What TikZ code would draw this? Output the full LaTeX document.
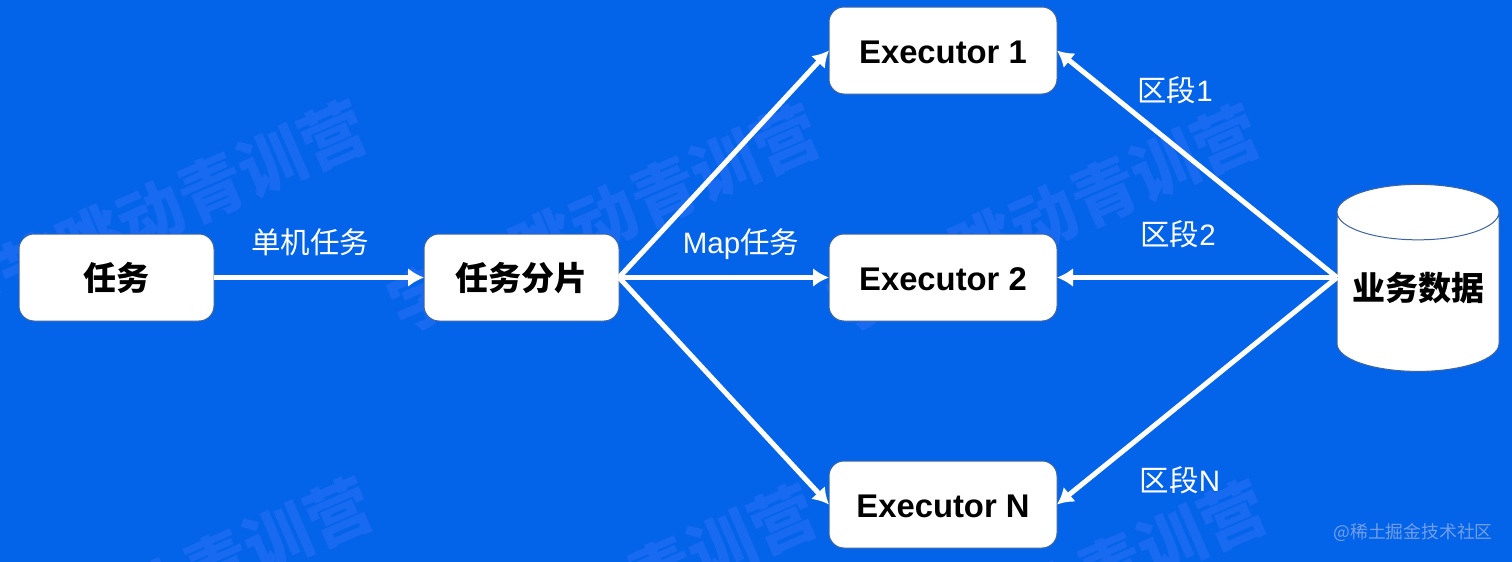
\documentclass[tikz,border=0pt]{standalone}
\usepackage{fontspec}
\setmainfont{Liberation Sans}
\newfontfamily\cjk{Noto Sans CJK SC}
\usetikzlibrary{shapes.geometric,arrows.meta,positioning}
\definecolor{bgblue}{RGB}{3, 100, 234}
\definecolor{markblue}{RGB}{24, 106, 240}
\definecolor{rimblue}{RGB}{60, 100, 165}
\definecolor{siteblue}{RGB}{115, 158, 232}
\tikzstyle{box} = [rectangle, rounded corners=7.5pt, draw=rimblue, line width=0.5pt, outer sep=0pt, fill=white, text=black, text centered, text height=13pt, text depth=0pt, minimum height=43.5pt]
\tikzstyle{taskbox} = [box, minimum width=97.5pt, font=\cjk\bfseries\fontsize{16.5}{20}\selectfont]
\tikzstyle{execbox} = [box, minimum width=114pt, font=\bfseries\fontsize{16.4}{20}\selectfont]
\tikzstyle{dbase} = [cylinder, shape border rotate=90, shape aspect=0.42, draw=rimblue, line width=0.5pt, outer sep=0pt, fill=white, text=black, text height=13pt, text depth=4.9pt, minimum width=81pt, minimum height=93.5pt, inner sep=0pt, font=\cjk\bfseries\fontsize{16.5}{20}\selectfont]
\tikzstyle{textonly} = [draw=none, fill=none, text=white, text centered, font=\fontsize{14.75}{18}\selectfont]
\tikzstyle{tedge}  = [draw=white, line width=2.5pt, -{Latex[length=8pt,width=9.5pt]}]
\tikzstyle{wmark} = [text=markblue, rotate=23.5, font=\cjk\bfseries\fontsize{33}{33}\selectfont]

\begin{document}
\begin{tikzpicture}[x=0.5pt, y=-0.5pt]

\useasboundingbox (0,0) rectangle (1512,562);
\fill[bgblue] (0,0) rectangle (1512,562);

% watermarks =============================
\begin{scope}
\clip (0,0) rectangle (1512,562);
\foreach \wx/\wy [count=\wi] in {151/214, 604/218, 1044/218, 157/591, 601/598, 1051/594}
  \node[wmark] (mark\wi) at (\wx,\wy) {字节跳动青训营};
\end{scope}

% boxes =============================
\node[taskbox] (task) at (116.5,277.5) {任务};
\node[taskbox, right=105pt of task] (split) {任务分片};
\node[execbox, right=105pt of split] (exec2) {Executor 2};
\node[execbox, above=70pt of exec2] (exec1) {Executor 1};
\node[execbox, below=70pt of exec2] (execn) {Executor N};
\node[dbase, right=140pt of exec2, yshift=-7.25pt] (data) {业务数据};
\coordinate (port) at ([yshift=7.25pt]data.west);

% labels
\node[textonly] (lsingle) at (310,242) {\cjk 单机任务};
\node[textonly] (lmap) at (741,244) {Map{\cjk 任务}};
\node[textonly] (lone) at (1175,90) {{\cjk 区段}1};
\node[textonly] (ltwo) at (1178,234) {{\cjk 区段}2};
\node[textonly] (lnum) at (1180,480) {{\cjk 区段}N};
\node[text=siteblue, anchor=east, inner sep=0pt, font=\cjk\fontsize{8.9}{11}\selectfont] (site) at (1493,532) {@稀土掘金技术社区};

% edges
\path[tedge] (task) -- (split);
\path[tedge] (split.east) -- (exec1.west);
\path[tedge] (split.east) -- (exec2.west);
\path[tedge] (split.east) -- (execn.west);
\path[tedge] (port) -- (exec1.east);
\path[tedge] (port) -- (exec2.east);
\path[tedge] (port) -- (execn.east);

\end{tikzpicture}
\end{document}
